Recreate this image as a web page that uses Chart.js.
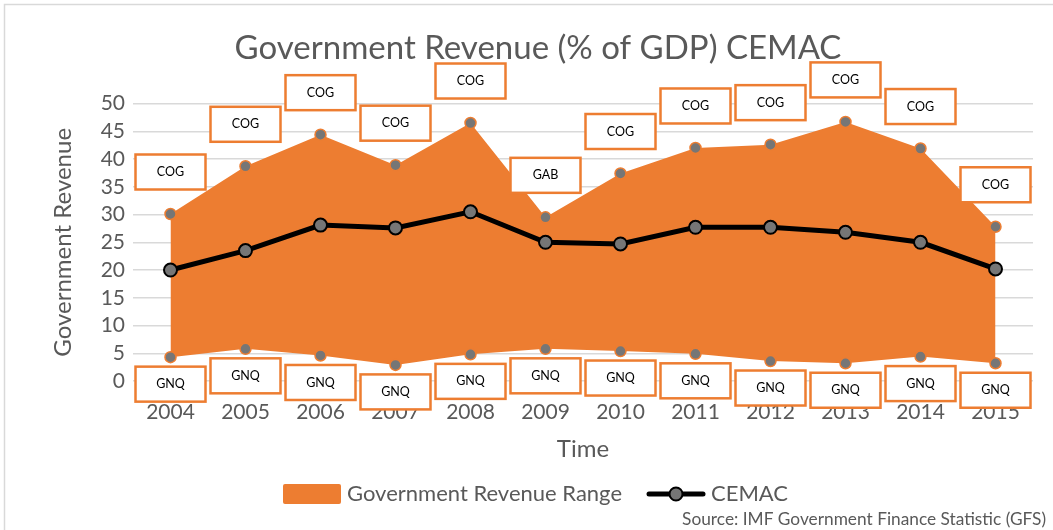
<!DOCTYPE html>
<html>
<head>
<meta charset="utf-8">
<script src="https://cdn.jsdelivr.net/npm/chart.js@4.4.1/dist/chart.umd.min.js"></script>
<style>
  html, body { margin: 0; padding: 0; overflow: hidden; background: #fff; }
  #wrap { width: 1076px; height: 530px; }
</style>
</head>
<body>
<div id="wrap"><canvas id="revenueChart" width="1076" height="530"></canvas></div>
<script>
// values (% of GDP)
const years = ['2004', '2005', '2006', '2007', '2008', '2009', '2010', '2011', '2012', '2013', '2014', '2015'];
const cemac = [20.0, 23.5, 28.1, 27.6, 30.5, 25.0, 24.7, 27.7, 27.7, 26.8, 25.0, 20.2];
const maxRevenue = [30.1, 38.7, 44.4, 38.9, 46.5, 29.5, 37.4, 42.0, 42.6, 46.7, 41.9, 27.8];
const minRevenue = [4.3, 5.8, 4.6, 2.9, 4.8, 5.8, 5.4, 4.9, 3.6, 3.2, 4.4, 3.2];
const maxCountry = ['COG', 'COG', 'COG', 'COG', 'COG', 'GAB', 'COG', 'COG', 'COG', 'COG', 'COG', 'COG'];
const minCountry = ['GNQ', 'GNQ', 'GNQ', 'GNQ', 'GNQ', 'GNQ', 'GNQ', 'GNQ', 'GNQ', 'GNQ', 'GNQ', 'GNQ'];
const yTicks = [0, 5, 10, 15, 20, 25, 30, 35, 40, 45, 50];

const orange = '#ED7D31';
const textGrey = '#595959';
const dotGrey = '#767676';
const fontFamily = 'Lato, "Open Sans", sans-serif';

// legend swatches
function rangeSwatch() {
    const c = document.createElement('canvas');
    c.width = 58; c.height = 20;
    const g = c.getContext('2d');
    g.fillStyle = orange;
    g.beginPath();
    g.roundRect(0, 0, 58, 20, 2);
    g.fill();
    return c;
}
function lineSwatch() {
    const c = document.createElement('canvas');
    c.width = 60; c.height = 18;
    const g = c.getContext('2d');
    g.strokeStyle = '#000';
    g.lineWidth = 5;
    g.lineCap = 'round';
    g.beginPath();
    g.moveTo(3, 9); g.lineTo(57, 9);
    g.stroke();
    g.beginPath();
    g.arc(30, 9, 6.5, 0, Math.PI * 2);
    g.fillStyle = dotGrey;
    g.fill();
    g.lineWidth = 2;
    g.stroke();
    return c;
}

const framePlugin = {
    id: 'frame',
    beforeDraw(chart) {
        const ctx = chart.ctx;
        ctx.save();
        ctx.strokeStyle = '#d9d9d9';
        ctx.lineWidth = 1.5;
        ctx.beginPath();
        ctx.moveTo(4.5, chart.height);
        ctx.lineTo(4.5, 4.5);
        ctx.lineTo(chart.width, 4.5);
        ctx.stroke();
        ctx.restore();
    }
};

// boxed country labels above the max and below the min points
const countryLabels = {
    id: 'countryLabels',
    afterDatasetsDraw(chart) {
        const ctx = chart.ctx;
        const w = 70, h = 35;
        const drawBox = (x, y, text) => {
            ctx.fillStyle = '#fff';
            ctx.fillRect(x - w / 2, y - h / 2, w, h);
            ctx.strokeStyle = orange;
            ctx.lineWidth = 2.5;
            ctx.strokeRect(x - w / 2, y - h / 2, w, h);
            ctx.fillStyle = '#000';
            ctx.fillText(text, x, y);
        };
        ctx.save();
        ctx.font = '12.5px ' + fontFamily;
        ctx.textAlign = 'center';
        ctx.textBaseline = 'middle';
        chart.getDatasetMeta(1).data.forEach((pt, i) => drawBox(pt.x, pt.y - 42, maxCountry[i]));
        chart.getDatasetMeta(2).data.forEach((pt, i) => drawBox(pt.x, pt.y + 27, minCountry[i]));
        ctx.restore();
    }
};

const sourceNote = {
    id: 'sourceNote',
    afterDraw(chart) {
        const ctx = chart.ctx;
        ctx.save();
        ctx.font = '17.3px ' + fontFamily;
        ctx.fillStyle = textGrey;
        ctx.textAlign = 'right';
        ctx.textBaseline = 'middle';
        ctx.fillText('Source: IMF Government Finance Statistic (GFS)', chart.chartArea.right + 13, 519);
        ctx.restore();
    }
};

const ctx = document.getElementById('revenueChart').getContext('2d');
new Chart(ctx, {
    type: 'line',
    data: {
        labels: years,
        datasets: [{
            label: 'CEMAC',
            data: cemac,
            order: 1,
            borderColor: '#000',
            borderWidth: 5,
            pointRadius: 6.5,
            pointBackgroundColor: dotGrey,
            pointBorderColor: '#000',
            pointBorderWidth: 2,
            fill: false
        }, {
            label: 'Government Revenue Range',
            data: maxRevenue,
            order: 3,
            borderColor: 'rgba(0,0,0,0)',
            borderWidth: 0,
            backgroundColor: orange,
            fill: '+1',
            pointRadius: 5.5,
            pointBackgroundColor: dotGrey,
            pointBorderColor: orange,
            pointBorderWidth: 1.5
        }, {
            label: 'min',
            data: minRevenue,
            order: 2,
            borderColor: 'rgba(0,0,0,0)',
            borderWidth: 0,
            fill: false,
            pointRadius: 5.5,
            pointBackgroundColor: dotGrey,
            pointBorderColor: orange,
            pointBorderWidth: 1.5
        }]
    },
    options: {
        responsive: false,
        animation: false,
        devicePixelRatio: 1,
        layout: { padding: { left: 0, right: 0, top: 0, bottom: 15 } },
        plugins: {
            title: {
                display: true,
                text: 'Government Revenue (% of GDP) CEMAC',
                color: textGrey,
                font: { family: fontFamily, size: 33, weight: 'normal' },
                padding: { top: 29, bottom: 35 }
            },
            legend: {
                position: 'bottom',
                labels: {
                    usePointStyle: true,
                    pointStyleWidth: 48,
                    padding: 30,
                    color: textGrey,
                    font: { family: fontFamily, size: 22 },
                    generateLabels: () => [
                        { text: 'Government Revenue Range', pointStyle: rangeSwatch(), fontColor: textGrey, lineWidth: 0, datasetIndex: 1 },
                        { text: 'CEMAC', pointStyle: lineSwatch(), fontColor: textGrey, lineWidth: 0, datasetIndex: 0 }
                    ]
                }
            },
            tooltip: { enabled: false }
        },
        scales: {
            x: {
                offset: true,
                grid: { display: false },
                border: { display: false },
                ticks: {
                    color: textGrey,
                    padding: 11,
                    maxRotation: 0,
                    font: { family: fontFamily, size: 21 }
                },
                title: {
                    display: true,
                    text: 'Time',
                    color: textGrey,
                    font: { family: fontFamily, size: 24 },
                    padding: { top: 0, bottom: -11 }
                },
                afterFit(s) { s.height = 72; }
            },
            y: {
                min: 0,
                max: 50,
                grid: { color: '#d9d9d9', lineWidth: 1.5, drawTicks: false },
                border: { display: false },
                ticks: {
                    autoSkip: false,
                    color: textGrey,
                    padding: 8,
                    font: { family: fontFamily, size: 21 }
                },
                afterBuildTicks(s) { s.ticks = yTicks.map(v => ({ value: v })); },
                title: {
                    display: true,
                    text: 'Government Revenue',
                    color: textGrey,
                    font: { family: fontFamily, size: 24 },
                    padding: { top: 49, bottom: 0 }
                },
                afterFit(s) { s.width = 133; }
            },
            yRight: {
                type: 'linear',
                position: 'right',
                grid: { display: false },
                border: { display: false },
                ticks: { display: false },
                afterFit(s) { s.width = 43; }
            }
        }
    },
    plugins: [framePlugin, countryLabels, sourceNote]
});
</script>
</body>
</html>
